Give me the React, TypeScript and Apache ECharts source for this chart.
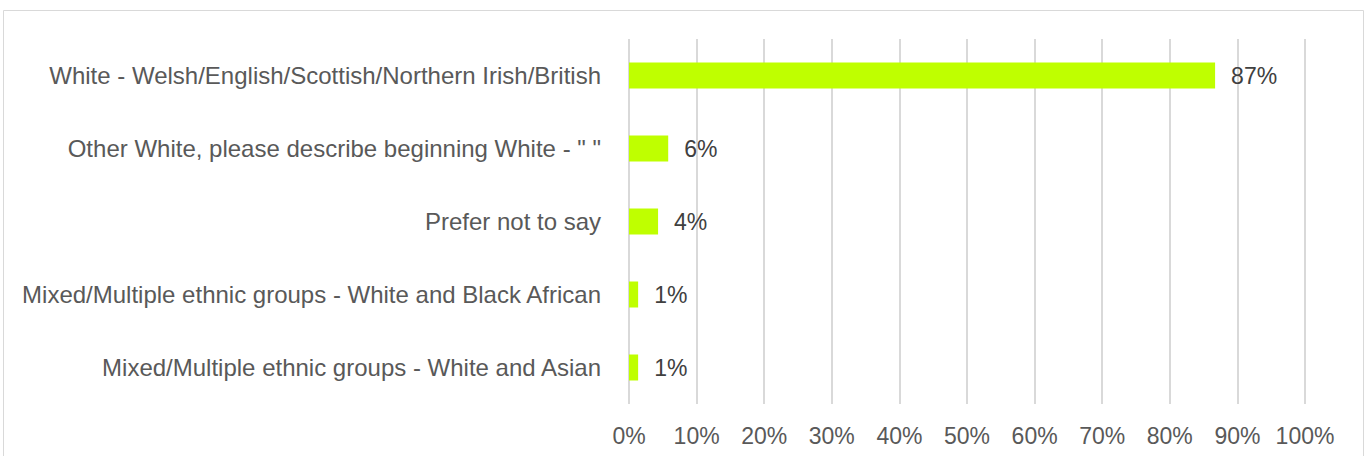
import React, { useEffect, useRef } from "react";
import * as echarts from "echarts";

const categories = [
  "White - Welsh/English/Scottish/Northern Irish/British",
  "Other White, please describe beginning White - \" \"",
  "Prefer not to say",
  "Mixed/Multiple ethnic groups - White and Black African",
  "Mixed/Multiple ethnic groups - White and Asian",
];
const values = [86.7, 5.8, 4.3, 1.35, 1.35];
const tickMax = 100;
const tickStep = 10;

export default function App() {
  const ref = useRef<HTMLDivElement>(null);
  useEffect(() => {
    if (!ref.current) return;
    const chart = echarts.init(ref.current, null, { renderer: "svg" });
    const font = "'Liberation Sans', Arial, sans-serif";
    chart.setOption({
      animation: false,
      backgroundColor: "#ffffff",
      grid: { left: 629, right: 63, top: 39, bottom: 52, containLabel: false },
      graphic: [
        {
          type: "rect",
          shape: { x: 3.5, y: 10.5, width: 1360, height: 460 },
          style: { fill: "none", stroke: "#d9d9d9", lineWidth: 1 },
          silent: true,
        },
      ],
      xAxis: {
        type: "value",
        min: 0,
        max: tickMax,
        interval: tickStep,
        axisLine: { show: false },
        axisTick: { show: false },
        splitLine: { show: true, lineStyle: { color: "#d9d9d9", width: 2 } },
        axisLabel: {
          formatter: (v: number) => v + "%",
          color: "#595959",
          fontSize: 23,
          fontFamily: font,
          margin: 20,
        },
      },
      yAxis: {
        type: "category",
        data: categories,
        inverse: true,
        axisLine: { show: false },
        axisTick: { show: false },
        splitLine: { show: false },
        axisLabel: {
          color: "#595959",
          fontSize: 24,
          fontFamily: font,
          margin: 28,
        },
      },
      series: [
        {
          type: "bar",
          data: values,
          barWidth: 26,
          itemStyle: { color: "#bfff00" },
          label: {
            show: true,
            position: "right",
            distance: 16,
            formatter: (p: any) => Math.round(p.value) + "%",
            color: "#404040",
            fontSize: 23,
            fontFamily: font,
          },
        },
      ],
    });
    return () => chart.dispose();
  }, []);
  return (
    <div
      ref={ref}
      style={{ position: "absolute", left: 0, top: 0, width: 1368, height: 456 }}
    />
  );
}
